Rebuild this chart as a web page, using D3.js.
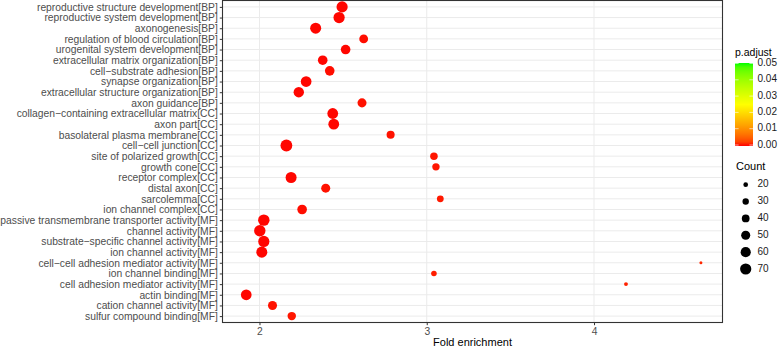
<!DOCTYPE html>
<html>
<head>
<meta charset="utf-8">
<script src="https://cdn.jsdelivr.net/npm/d3@7"></script>
<style>
  body { margin: 0; background: #fff; }
  text { font-family: 'Liberation Sans', Arial, sans-serif; }
</style>
</head>
<body>
<script>
const width = 778;
const height = 347;

const terms = [
    'reproductive structure development[BP]',
    'reproductive system development[BP]',
    'axonogenesis[BP]',
    'regulation of blood circulation[BP]',
    'urogenital system development[BP]',
    'extracellular matrix organization[BP]',
    'cell\u2212substrate adhesion[BP]',
    'synapse organization[BP]',
    'extracellular structure organization[BP]',
    'axon guidance[BP]',
    'collagen\u2212containing extracellular matrix[CC]',
    'axon part[CC]',
    'basolateral plasma membrane[CC]',
    'cell\u2212cell junction[CC]',
    'site of polarized growth[CC]',
    'growth cone[CC]',
    'receptor complex[CC]',
    'distal axon[CC]',
    'sarcolemma[CC]',
    'ion channel complex[CC]',
    'passive transmembrane transporter activity[MF]',
    'channel activity[MF]',
    'substrate\u2212specific channel activity[MF]',
    'ion channel activity[MF]',
    'cell\u2212cell adhesion mediator activity[MF]',
    'ion channel binding[MF]',
    'cell adhesion mediator activity[MF]',
    'actin binding[MF]',
    'cation channel activity[MF]',
    'sulfur compound binding[MF]'
];

const foldEnrichment = [
    2.494, 2.476, 2.336, 2.623, 2.515, 2.378, 2.42, 2.279, 2.235, 2.613,
    2.438, 2.444, 2.784, 2.161, 3.043, 3.055, 2.189, 2.396, 3.081, 2.255,
    2.026, 2.002, 2.026, 2.014, 4.639, 3.043, 4.191, 1.921, 2.078, 2.193
];

const counts = [
    70, 70, 68, 48, 55, 55, 55, 65, 62, 50,
    66, 66, 42, 76, 38, 37, 68, 50, 33, 55,
    72, 72, 70, 68, 12, 25, 16, 65, 50, 45
];

const pAdjust = [
    0.0001, 0.0001, 0.0001, 0.0002, 0.0001, 0.0001, 0.0002, 0.0001, 0.0001, 0.0003,
    0.0001, 0.0001, 0.0003, 0.0001, 0.0004, 0.0004, 0.0001, 0.0003, 0.0005, 0.0002,
    0.0001, 0.0001, 0.0001, 0.0001, 0.001, 0.0006, 0.0008, 0.0001, 0.0003, 0.0004
];

const xTicks = [2, 3, 4];
const pTicks = [0, 0.01, 0.02, 0.03, 0.04, 0.05];
const countTicks = [20, 30, 40, 50, 60, 70];

const data = terms.map((t, i) => ({
    term: t,
    fold: foldEnrichment[i],
    count: counts[i],
    p: pAdjust[i]
}));

const panel = { left: 222.5, right: 722.5, top: 0.5, bottom: 322.5 };

const x = d3.scaleLinear()
    .domain([1.779, 4.768])
    .range([panel.left, panel.right]);

const y = d3.scalePoint()
    .domain(terms)
    .range([panel.top, panel.bottom])
    .padding(0.6);

const r = d3.scaleSqrt()
    .domain([12, 76])
    .range([1.5, 5.9]);

const color = d3.scaleLinear()
    .domain([0, 0.025, 0.05])
    .range(['#ff0000', '#ffff00', '#00ff00'])
    .interpolate(d3.interpolateLab);

const svg = d3.select('body')
    .append('svg')
    .attr('width', width)
    .attr('height', height);

// panel background + grid
svg.append('rect')
    .attr('x', panel.left)
    .attr('y', panel.top)
    .attr('width', panel.right - panel.left)
    .attr('height', panel.bottom - panel.top)
    .attr('fill', '#fff');

svg.append('g')
    .selectAll('line')
    .data(terms)
    .join('line')
    .attr('x1', panel.left)
    .attr('x2', panel.right)
    .attr('y1', (d) => y(d))
    .attr('y2', (d) => y(d))
    .attr('stroke', '#ebebeb')
    .attr('stroke-width', 1);

svg.append('g')
    .selectAll('line')
    .data(xTicks)
    .join('line')
    .attr('x1', (d) => x(d))
    .attr('x2', (d) => x(d))
    .attr('y1', panel.top)
    .attr('y2', panel.bottom)
    .attr('stroke', '#ebebeb')
    .attr('stroke-width', 1);

// points
svg.append('g')
    .selectAll('circle')
    .data(data)
    .join('circle')
    .attr('cx', (d) => x(d.fold))
    .attr('cy', (d) => y(d.term))
    .attr('r', (d) => r(d.count))
    .attr('fill', (d) => color(d.p));

svg.append('rect')
    .attr('x', panel.left)
    .attr('y', panel.top)
    .attr('width', panel.right - panel.left)
    .attr('height', panel.bottom - panel.top)
    .attr('fill', 'none')
    .attr('stroke', '#333')
    .attr('stroke-width', 1.1);

// axes
const yAxis = svg.append('g')
    .attr('transform', `translate(${panel.left},0)`)
    .call(d3.axisLeft(y).tickSize(2.7).tickPadding(2));
yAxis.select('.domain').remove();
yAxis.selectAll('line').attr('stroke', '#333');
yAxis.selectAll('text')
    .attr('fill', '#4d4d4d')
    .style('font-size', '10.3px')
    .style('font-family', "'Liberation Sans', Arial, sans-serif");

const xAxis = svg.append('g')
    .attr('transform', `translate(0,${panel.bottom})`)
    .call(d3.axisBottom(x).tickValues(xTicks).tickFormat(d3.format('d')).tickSize(2.7).tickPadding(2));
xAxis.select('.domain').remove();
xAxis.selectAll('line').attr('stroke', '#333');
xAxis.selectAll('text')
    .attr('fill', '#4d4d4d')
    .style('font-size', '10.3px')
    .style('font-family', "'Liberation Sans', Arial, sans-serif");

svg.append('text')
    .attr('x', (panel.left + panel.right) / 2)
    .attr('y', 343)
    .attr('text-anchor', 'middle')
    .attr('dominant-baseline', 'middle')
    .style('font-size', '11px')
    .attr('fill', '#000')
    .text('Fold enrichment');

// colour legend
const bar = { x: 735, top: 63, bottom: 146, w: 18 };
const pY = d3.scaleLinear().domain([0, 0.05]).range([145, 63.5]);

const grad = svg.append('defs')
    .append('linearGradient')
    .attr('id', 'pgrad')
    .attr('x1', 0).attr('x2', 0)
    .attr('y1', 1).attr('y2', 0);
grad.selectAll('stop')
    .data(d3.range(0, 1.0001, 0.05))
    .join('stop')
    .attr('offset', (d) => d)
    .attr('stop-color', (d) => color(d * 0.05));

svg.append('text')
    .attr('x', bar.x)
    .attr('y', 53)
    .attr('dominant-baseline', 'middle')
    .style('font-size', '10.5px')
    .text('p.adjust');

svg.append('rect')
    .attr('x', bar.x)
    .attr('y', bar.top)
    .attr('width', bar.w)
    .attr('height', bar.bottom - bar.top)
    .attr('fill', 'url(#pgrad)');

const pLegend = svg.append('g');
pLegend.selectAll('line.l')
    .data(pTicks)
    .join('line')
    .attr('class', 'l')
    .attr('x1', bar.x)
    .attr('x2', bar.x + 3.6)
    .attr('y1', (d) => pY(d))
    .attr('y2', (d) => pY(d))
    .attr('stroke', '#fff')
    .attr('stroke-opacity', 0.6);
pLegend.selectAll('line.r')
    .data(pTicks)
    .join('line')
    .attr('class', 'r')
    .attr('x1', bar.x + bar.w - 3.6)
    .attr('x2', bar.x + bar.w)
    .attr('y1', (d) => pY(d))
    .attr('y2', (d) => pY(d))
    .attr('stroke', '#fff')
    .attr('stroke-opacity', 0.6);
pLegend.selectAll('text')
    .data(pTicks)
    .join('text')
    .attr('x', 757.5)
    .attr('y', (d) => pY(d))
    .attr('dominant-baseline', 'middle')
    .style('font-size', '10px')
    .attr('fill', '#1a1a1a')
    .text((d) => d3.format('.2f')(d));

// size legend
svg.append('text')
    .attr('x', 736)
    .attr('y', 167)
    .attr('dominant-baseline', 'middle')
    .style('font-size', '11px')
    .text('Count');

const sizeY = d3.scalePoint()
    .domain(countTicks)
    .range([184.7, 269]);

const sLegend = svg.append('g');
sLegend.selectAll('circle')
    .data(countTicks)
    .join('circle')
    .attr('cx', 745.7)
    .attr('cy', (d) => sizeY(d))
    .attr('r', (d) => r(d))
    .attr('fill', '#000');
sLegend.selectAll('text')
    .data(countTicks)
    .join('text')
    .attr('x', 757.5)
    .attr('y', (d) => sizeY(d))
    .attr('dominant-baseline', 'middle')
    .style('font-size', '10px')
    .attr('fill', '#1a1a1a')
    .text((d) => d);
</script>
</body>
</html>
